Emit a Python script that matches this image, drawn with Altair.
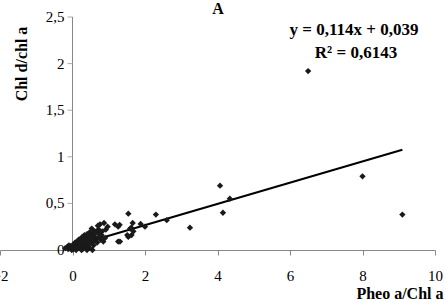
import altair as alt
import pandas as pd

# Data (Pheo a/Chl a vs Chl d/chl a)
pheo = [6.5, 9.1, 8.0, 4.07, 4.34, 4.15, 3.24, 2.6, 2.3, 2.0, 1.88, 1.54, 1.51,
        1.66, 1.68, 1.62, 1.59, 1.63, 1.54, 1.26, 1.26, 1.17, 1.3, 1.31, 0.87,
        0.76, 0.53, 0.8, 0.85, 0.7, 0.65, 0.92, 0.97, 0.82, 0.9,
        -0.2, -0.15, -0.12, -0.1, -0.08, -0.05, -0.02, 0.0, 0.02, 0.03, 0.05,
        0.07, 0.08, 0.1, 0.12, 0.13, 0.15, 0.17, 0.18, 0.2, 0.22, 0.23, 0.25,
        0.27, 0.28, 0.3, 0.32, 0.33, 0.35, 0.37, 0.38, 0.4, 0.42, 0.43, 0.45,
        0.47, 0.48, 0.5, 0.52, 0.55, 0.57, 0.58, 0.6, 0.62, 0.65, 0.68, 0.7,
        0.72, 0.75, 0.78, 0.4, 0.55, 0.25, 0.1]
chld = [1.92, 0.38, 0.79, 0.69, 0.55, 0.40, 0.24, 0.32, 0.38, 0.25, 0.28, 0.39,
        0.16, 0.29, 0.20, 0.24, 0.23, 0.16, 0.14, 0.09, 0.25, 0.275, 0.27, 0.09,
        0.29, 0.275, 0.23, 0.16, 0.09, 0.26, 0.20, 0.22, 0.25, 0.2, 0.13,
        0.02, 0.03, 0.01, 0.05, 0.02, 0.04, 0.0, 0.03, 0.06, 0.01, 0.04,
        0.08, 0.02, 0.05, 0.09, 0.03, 0.06, 0.11, 0.02, 0.07, 0.12, 0.04, 0.09,
        0.14, 0.01, 0.06, 0.11, 0.16, 0.03, 0.08, 0.13, 0.17, 0.05, 0.1, 0.15,
        0.19, 0.02, 0.08, 0.12, 0.17, 0.21, 0.05, 0.1, 0.14, 0.19, 0.08, 0.13,
        0.22, 0.17, 0.11, 0.0, 0.0, 0.0, 0.0]

# Trendline as displayed: y = 0,114x + 0,039
slope = [0.114]
intercept = [0.039]
line_x = [-0.2, 9.1]

eq_line1 = ["y = 0,114x + 0,039"]
eq_line2 = ["R² = 0,6143"]

# y axis (drawn at x = 0)
y_ticks = [0, 0.5, 1, 1.5, 2, 2.5]
y_labels = ["0", "0,5", "1", "1,5", "2", "2,5"]

pts = pd.DataFrame({"x": pheo, "y": chld})
ln = pd.DataFrame({"x": line_x, "s": slope * 2, "b": intercept * 2})
yt = pd.DataFrame({"x": [0] * len(y_ticks), "y": y_ticks, "lab": y_labels})

SERIF = "Liberation Serif"
AX = "#888888"

xscale = alt.Scale(domain=[-2, 10], nice=False, zero=False)
yscale = alt.Scale(domain=[0, 2.5], nice=False)

xaxis = alt.Axis(
    title="Pheo a/Chl a", values=[-2, 0, 2, 4, 6, 8, 10], grid=False,
    labelFont=SERIF, labelFontSize=15, labelColor="black", labelPadding=13,
    labelFlush=False, labelOverlap=False,
    tickColor=AX, tickSize=5, domainColor=AX,
    titleFont=SERIF, titleFontSize=16, titleFontWeight="bold", titleColor="black",
    titleX=443, titleY=48, titleAlign="right", titleBaseline="alphabetic",
)

points = alt.Chart(pts).mark_point(shape="diamond", filled=True, size=40,
                                   color="#1a1a1a", opacity=1).encode(
    x=alt.X("x:Q", scale=xscale, axis=xaxis),
    y=alt.Y("y:Q", scale=yscale, axis=None),
)

trend = alt.Chart(ln).transform_calculate(
    yy="datum.s * datum.x + datum.b"
).mark_line(color="black", strokeWidth=2).encode(
    x=alt.X("x:Q", scale=xscale),
    y=alt.Y("yy:Q", scale=yscale, axis=None),
)

y_domain = alt.Chart(yt).mark_line(color=AX, strokeWidth=1).encode(
    x=alt.X("x:Q", scale=xscale),
    y=alt.Y("y:Q", scale=yscale, axis=None),
)
y_tickmarks = alt.Chart(yt).mark_tick(color=AX, orient="horizontal", size=5,
                                      thickness=1, xOffset=-2.5).encode(
    x=alt.X("x:Q", scale=xscale),
    y=alt.Y("y:Q", scale=yscale, axis=None),
)
y_ticklabels = alt.Chart(yt).mark_text(font=SERIF, fontSize=15, color="black",
                                       align="right", baseline="middle",
                                       dx=-8).encode(
    x=alt.X("x:Q", scale=xscale),
    y=alt.Y("y:Q", scale=yscale, axis=None),
    text="lab:N",
)
y_title = alt.Chart(pd.DataFrame({"t": ["Chl d/chl a"]})).mark_text(
    font=SERIF, fontSize=16, fontWeight="bold", color="black", angle=270,
    align="center", baseline="middle").encode(
    text="t:N", x=alt.value(22), y=alt.value(47))

top_title = alt.Chart(pd.DataFrame({"t": ["A"]})).mark_text(
    font=SERIF, fontSize=16, fontWeight="bold", color="black",
    align="center", baseline="alphabetic").encode(
    text="t:N", x=alt.value(218), y=alt.value(-3))

eq1 = alt.Chart(pd.DataFrame({"t": eq_line1})).mark_text(
    font=SERIF, fontSize=17, fontWeight="bold", color="black",
    align="center", baseline="alphabetic").encode(
    text="t:N", x=alt.value(354), y=alt.value(18))
eq2 = alt.Chart(pd.DataFrame({"t": eq_line2})).mark_text(
    font=SERIF, fontSize=17, fontWeight="bold", color="black",
    align="center", baseline="alphabetic").encode(
    text="t:N", x=alt.value(356), y=alt.value(41))

chart = alt.layer(y_domain, y_tickmarks, y_ticklabels, y_title, trend, points,
                  eq1, eq2, top_title).properties(
    width=435, height=233,
    autosize=alt.AutoSizeParams(type="none"),
    padding={"left": 0, "top": 17, "right": 10, "bottom": 50},
).configure_view(stroke=None)

chart.save("out.html", embed_options={"renderer": "svg", "actions": False})
